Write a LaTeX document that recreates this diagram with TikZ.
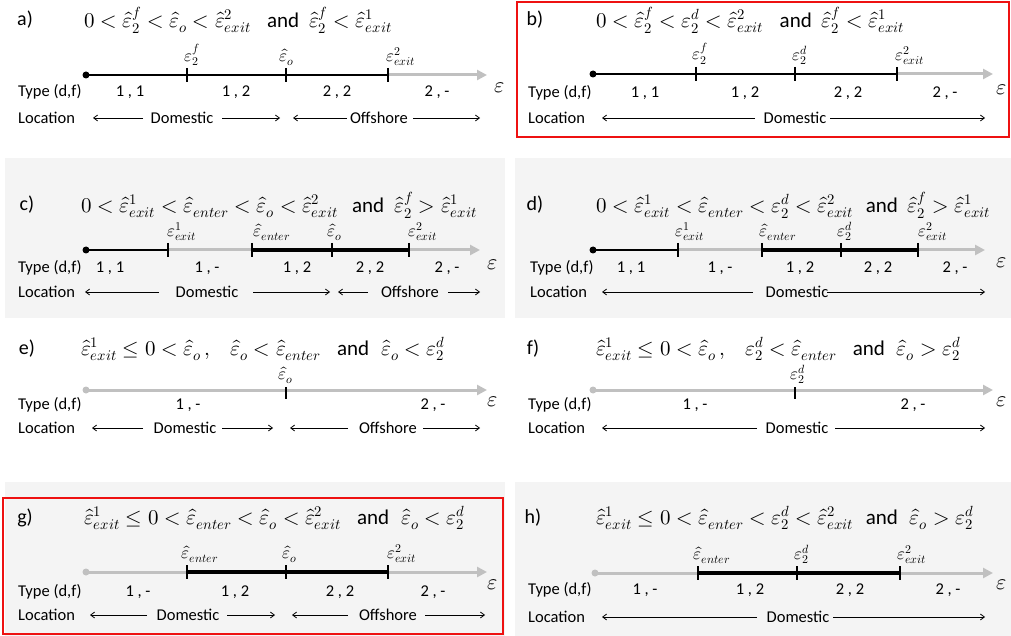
\documentclass[tikz,border=0pt]{standalone}
\usepackage{fontspec}
\usepackage{unicode-math}
\setmainfont{Carlito}
\setmathfont{Latin Modern Math}
\usetikzlibrary{arrows.meta}
\definecolor{axgray}{HTML}{C0C0C0}
\definecolor{bggray}{HTML}{F4F4F4}
\definecolor{redb}{HTML}{EE1111}
\newcommand\larrow[4]{\coordinate (#1s) at (#2,#4); \coordinate (#1e) at (#3,#4); \draw[larr] (#1s) -- (#1e);}
\newcommand\eh{\hat{\varepsilon}}
\newcommand\ep{\varepsilon}
\begin{document}
\begin{tikzpicture}[x=1pt,y=-1pt,
  plab/.style={font=\fontsize{20}{24}\selectfont, inner sep=0pt},
  form/.style={anchor=west, inner sep=0pt, font=\fontsize{21}{25}\selectfont},
  row/.style={anchor=west, inner sep=0pt, font=\fontsize{16.5}{19}\selectfont},
  val/.style={inner sep=0pt, font=\fontsize{16.5}{19}\selectfont},
  tlab/.style={anchor=south, inner sep=1pt, font=\fontsize{17}{20}\selectfont},
  eps/.style={inner sep=0pt, font=\fontsize{22}{26}\selectfont},
  blk/.style={line width=2.5pt, black},
  blkk/.style={line width=4pt, black},
  gry/.style={line width=3pt, axgray},
  gryarr/.style={line width=3pt, axgray, -{Triangle[length=10pt,width=10pt]}},
  tk/.style={line width=2pt, black},
  larr/.style={line width=0.8pt, -{Straight Barb[length=4pt,width=6pt]}},
  redbox/.style={draw=redb, line width=1.6pt},
  bg/.style={fill=bggray, draw=none}]
\useasboundingbox (0,0) rectangle (1011,636);
% backgrounds
\fill[bg] (5,158) rectangle (505,318);
\fill[bg] (515,158) rectangle (1011,318);
\fill[bg] (5,482) rectangle (505,636);
\fill[bg] (515,482) rectangle (1011,636);

% ===== panel a =====
\node[plab] (la) at (25,20) {a)};
\node[form] (fa) at (84,20) {$0<\eh_2^f<\eh_o<\eh_{exit}^2$\hspace{16pt}and\hspace{10pt}$\eh_2^f<\eh_{exit}^1$};
\coordinate (a0) at (86,75); \coordinate (a1) at (187,75); \coordinate (a2) at (286,75);
\coordinate (a3) at (388,75); \coordinate (a4) at (487,75);
\draw[gryarr] (a3) -- (a4);
\draw[blk] (a0) -- (a3);
\fill (a0) circle[radius=3.5pt];
\foreach \p in {a1,a2,a3} \draw[tk] ([yshift=7pt]\p) -- ([yshift=-7pt]\p);
\node[tlab] (ta1) at (192,67) {$\ep_2^f$};
\node[tlab] (ta2) at (287,67) {$\eh_o$};
\node[tlab] (ta3) at (401,67) {$\ep_{exit}^2$};
\node[eps] (ea) at (500,88) {$\ep$};
\node[row] (tya) at (18,92) {Type (d,f)};
\node[val] (va1) at (130,92) {1 , 1};
\node[val] (va2) at (236,92) {1 , 2};
\node[val] (va3) at (337,92) {2 , 2};
\node[val] (va4) at (437,92) {2 , -};
\node[row] (loa) at (18,118) {Location};
\node[val] (doma) at (182,118) {Domestic};
\node[val] (offa) at (379,118) {Offshore};
\larrow{aA}{143}{93}{118}
\larrow{aB}{222}{280}{118}
\larrow{aC}{347}{293}{118}
\larrow{aD}{413}{480}{118}

% ===== panel b =====
\draw[redbox] (517,2) rectangle (1009,137);
\node[plab] (lb) at (535,20) {b)};
\node[form] (fb) at (596,20) {$0<\eh_2^f<\ep_2^d<\eh_{exit}^2$\hspace{16pt}and\hspace{10pt}$\eh_2^f<\eh_{exit}^1$};
\coordinate (b0) at (593,74); \coordinate (b1) at (696,74); \coordinate (b2) at (795,74);
\coordinate (b3) at (897,74); \coordinate (b4) at (993,74);
\draw[gryarr] (b3) -- (b4);
\draw[blk] (b0) -- (b3);
\fill (b0) circle[radius=3.5pt];
\foreach \p in {b1,b2,b3} \draw[tk] ([yshift=7pt]\p) -- ([yshift=-7pt]\p);
\node[tlab] (tb1) at (700,66) {$\ep_2^f$};
\node[tlab] (tb2) at (800,66) {$\ep_2^d$};
\node[tlab] (tb3) at (910,66) {$\ep_{exit}^2$};
\node[eps] (eb) at (1002,90) {$\ep$};
\node[row] (tyb) at (528,93) {Type (d,f)};
\node[val] (vb1) at (645,93) {1 , 1};
\node[val] (vb2) at (745,93) {1 , 2};
\node[val] (vb3) at (848,93) {2 , 2};
\node[val] (vb4) at (945,93) {2 , -};
\node[row] (lob) at (528,118) {Location};
\node[val] (domb) at (795,118) {Domestic};
\larrow{bA}{755}{602}{118}
\larrow{bB}{830}{985}{118}

% ===== panel c =====
\node[plab] (lc) at (27,205) {c)};
\node[form] (fc) at (81,205) {$0<\eh_{exit}^1<\eh_{enter}<\eh_o<\eh_{exit}^2$\hspace{14pt}and\hspace{10pt}$\eh_2^f>\eh_{exit}^1$};
\coordinate (c0) at (86,250); \coordinate (c1) at (168,250); \coordinate (c2) at (252,250);
\coordinate (c3) at (332,250); \coordinate (c4) at (409,250); \coordinate (c5) at (480,250);
\draw[gry] (c1) -- (c2);
\draw[gryarr] (c4) -- (c5);
\draw[blk] (c0) -- (c1);
\draw[blkk] (c2) -- (c4);
\fill (c0) circle[radius=3.5pt];
\foreach \p in {c1,c2,c3,c4} \draw[tk] ([yshift=7pt]\p) -- ([yshift=-7pt]\p);
\node[tlab] (tc1) at (182,242) {$\ep_{exit}^1$};
\node[tlab] (tc2) at (272,242) {$\eh_{enter}$};
\node[tlab] (tc3) at (335,242) {$\eh_o$};
\node[tlab] (tc4) at (423,242) {$\ep_{exit}^2$};
\node[eps] (ec) at (493,265) {$\ep$};
\node[row] (tyc) at (18,268) {Type (d,f)};
\node[val] (vc1) at (110,268) {1 , 1};
\node[val] (vc2) at (207,268) {1 , -};
\node[val] (vc3) at (297,268) {1 , 2};
\node[val] (vc4) at (370,268) {2 , 2};
\node[val] (vc5) at (447,268) {2 , -};
\node[row] (loc) at (18,292) {Location};
\node[val] (domc) at (207,292) {Domestic};
\node[val] (offc) at (410,292) {Offshore};
\larrow{cA}{159}{85}{292}
\larrow{cB}{253}{330}{292}
\larrow{cC}{368}{338}{292}
\larrow{cD}{448}{480}{292}

% ===== panel d =====
\node[plab] (ld) at (535,205) {d)};
\node[form] (fd) at (596,205) {$0<\eh_{exit}^1<\eh_{enter}<\ep_2^d<\eh_{exit}^2$\hspace{12pt}and\hspace{10pt}$\eh_2^f>\eh_{exit}^1$};
\coordinate (d0) at (593,250); \coordinate (d1) at (678,250); \coordinate (d2) at (762,250);
\coordinate (d3) at (841,250); \coordinate (d4) at (918,250); \coordinate (d5) at (985,250);
\draw[gry] (d1) -- (d2);
\draw[gryarr] (d4) -- (d5);
\draw[blk] (d0) -- (d1);
\draw[blkk] (d2) -- (d4);
\fill (d0) circle[radius=3.5pt];
\foreach \p in {d1,d2,d3,d4} \draw[tk] ([yshift=7pt]\p) -- ([yshift=-7pt]\p);
\node[tlab] (td1) at (690,242) {$\ep_{exit}^1$};
\node[tlab] (td2) at (778,242) {$\eh_{enter}$};
\node[tlab] (td3) at (845,242) {$\ep_2^d$};
\node[tlab] (td4) at (933,242) {$\ep_{exit}^2$};
\node[eps] (ed) at (1002,263) {$\ep$};
\node[row] (tyd) at (530,268) {Type (d,f)};
\node[val] (vd1) at (631,268) {1 , 1};
\node[val] (vd2) at (720,268) {1 , -};
\node[val] (vd3) at (800,268) {1 , 2};
\node[val] (vd4) at (878,268) {2 , 2};
\node[val] (vd5) at (955,268) {2 , -};
\node[row] (lod) at (530,292) {Location};
\node[val] (domd) at (797,292) {Domestic};
\larrow{dA}{753}{602}{292}
\larrow{dB}{827}{985}{292}

% ===== panel e =====
\node[plab] (le) at (27,349) {e)};
\node[form] (fe) at (81,349) {$\eh_{exit}^1\le 0<\eh_o\,,$\hspace{20pt}$\eh_o<\eh_{enter}$\hspace{16pt}and\hspace{12pt}$\eh_o<\ep_2^d$};
\coordinate (e0) at (86,390); \coordinate (e1) at (286,390); \coordinate (e2) at (487,390);
\draw[gryarr] (e0) -- (e2);
\fill[axgray] (e0) circle[radius=3.5pt];
\draw[tk] ([yshift=3pt]e1) -- ([yshift=-9pt]e1);
\node[tlab] (te1) at (286,385) {$\eh_o$};
\node[eps] (ee) at (493,402) {$\ep$};
\node[row] (tye) at (18,405) {Type (d,f)};
\node[val] (ve1) at (188,405) {1 , -};
\node[val] (ve2) at (433,405) {2 , -};
\node[row] (loe) at (18,428) {Location};
\node[val] (dome) at (185,428) {Domestic};
\node[val] (offe) at (388,428) {Offshore};
\larrow{eA}{143}{92}{428}
\larrow{eB}{222}{273}{428}
\larrow{eC}{348}{290}{428}
\larrow{eD}{423}{480}{428}

% ===== panel f =====
\node[plab] (lf) at (533,349) {f)};
\node[form] (ff) at (596,349) {$\eh_{exit}^1\le 0<\eh_o\,,$\hspace{20pt}$\ep_2^d<\eh_{enter}$\hspace{16pt}and\hspace{12pt}$\eh_o>\ep_2^d$};
\coordinate (f0) at (593,390); \coordinate (f1) at (795,390); \coordinate (f2) at (993,390);
\draw[gryarr] (f0) -- (f2);
\fill[axgray] (f0) circle[radius=3.5pt];
\draw[tk] ([yshift=3pt]f1) -- ([yshift=-9pt]f1);
\node[tlab] (tf1) at (798,385) {$\ep_2^d$};
\node[eps] (ef) at (1002,402) {$\ep$};
\node[row] (tyf) at (528,405) {Type (d,f)};
\node[val] (vf1) at (695,405) {1 , -};
\node[val] (vf2) at (913,405) {2 , -};
\node[row] (lof) at (528,428) {Location};
\node[val] (domf) at (797,428) {Domestic};
\larrow{fA}{757}{602}{428}
\larrow{fB}{835}{985}{428}

% ===== panel g =====
\draw[redbox] (3,498) rectangle (503,634);
\node[plab] (lg) at (25,518) {g)};
\node[form] (fg) at (84,518) {$\eh_{exit}^1\le 0<\eh_{enter}<\eh_o<\eh_{exit}^2$\hspace{16pt}and\hspace{12pt}$\eh_o<\ep_2^d$};
\coordinate (g0) at (86,572); \coordinate (g1) at (187,572); \coordinate (g2) at (286,572);
\coordinate (g3) at (388,572); \coordinate (g4) at (487,572);
\draw[gry] (g0) -- (g1);
\draw[gryarr] (g3) -- (g4);
\draw[blkk] (g1) -- (g3);
\fill[axgray] (g0) circle[radius=3.5pt];
\foreach \p in {g1,g2,g3} \draw[tk] ([yshift=7pt]\p) -- ([yshift=-7pt]\p);
\node[tlab] (tg1) at (200,564) {$\eh_{enter}$};
\node[tlab] (tg2) at (290,564) {$\eh_o$};
\node[tlab] (tg3) at (402,564) {$\ep_{exit}^2$};
\node[eps] (eg) at (493,585) {$\ep$};
\node[row] (tyg) at (18,592) {Type (d,f)};
\node[val] (vg1) at (138,592) {1 , -};
\node[val] (vg2) at (235,592) {1 , 2};
\node[val] (vg3) at (340,592) {2 , 2};
\node[val] (vg4) at (433,592) {2 , -};
\node[row] (log) at (18,615) {Location};
\node[val] (domg) at (188,615) {Domestic};
\node[val] (offg) at (388,615) {Offshore};
\larrow{gA}{147}{90}{615}
\larrow{gB}{227}{275}{615}
\larrow{gC}{348}{292}{615}
\larrow{gD}{425}{485}{615}

% ===== panel h =====
\node[plab] (lh) at (533,518) {h)};
\node[form] (fh) at (596,518) {$\eh_{exit}^1\le 0<\eh_{enter}<\ep_2^d<\eh_{exit}^2$\hspace{12pt}and\hspace{12pt}$\eh_o>\ep_2^d$};
\coordinate (h0) at (595,573); \coordinate (h1) at (698,573); \coordinate (h2) at (797,573);
\coordinate (h3) at (900,573); \coordinate (h4) at (993,573);
\draw[gry] (h0) -- (h1);
\draw[gryarr] (h3) -- (h4);
\draw[blkk] (h1) -- (h3);
\fill[axgray] (h0) circle[radius=3.5pt];
\foreach \p in {h1,h2,h3} \draw[tk] ([yshift=7pt]\p) -- ([yshift=-7pt]\p);
\node[tlab] (th1) at (712,565) {$\eh_{enter}$};
\node[tlab] (th2) at (802,565) {$\ep_2^d$};
\node[tlab] (th3) at (912,565) {$\ep_{exit}^2$};
\node[eps] (eh) at (1002,585) {$\ep$};
\node[row] (tyh) at (528,590) {Type (d,f)};
\node[val] (vh1) at (645,590) {1 , -};
\node[val] (vh2) at (750,590) {1 , 2};
\node[val] (vh3) at (850,590) {2 , 2};
\node[val] (vh4) at (948,590) {2 , -};
\node[row] (loh) at (528,617) {Location};
\node[val] (domh) at (798,617) {Domestic};
\larrow{hA}{757}{602}{617}
\larrow{hB}{833}{985}{617}
\end{tikzpicture}
\end{document}
